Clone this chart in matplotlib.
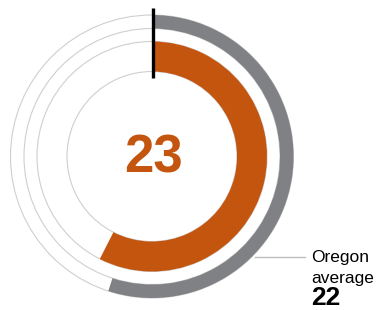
"""
Radial gauge: county value vs Oregon average
"""

import matplotlib.pyplot as plt
import matplotlib.patches as patches

plt.rcParams['font.family'] = ['Liberation Sans', 'DejaVu Sans']

# data
value = 23
state_avg = 22
max_value = 40
avg_label = ['Oregon', 'average']

# colors
orange = '#c4550e'
gray = '#808184'
ring_line = '#cfcfcf'

W, H = 381, 310
fig = plt.figure(figsize=(W / 100, H / 100), dpi=100)
ax = fig.add_axes([0, 0, 1, 1])
ax.set_xlim(0, W)
ax.set_ylim(0, H)
ax.set_aspect('equal')
ax.axis('off')

cx, cy = 152, H - 156.5

# thin guide circles
for r in (141.5, 128, 115, 85):
    ax.add_patch(patches.Circle((cx, cy), r, fill=False,
                                edgecolor=ring_line, linewidth=0.8))


def to_theta(v):
    # clockwise from 12 o'clock
    return 90 - 360 * v / max_value


# outer ring: state average
ax.add_patch(patches.Wedge((cx, cy), 141.5, to_theta(state_avg), 90,
                           width=13.5, facecolor=gray, edgecolor='none'))
# inner ring: county value
ax.add_patch(patches.Wedge((cx, cy), 115, to_theta(value), 90,
                           width=30, facecolor=orange, edgecolor='none'))

# start tick
ax.plot([cx + 0.5, cx + 0.5], [H - 8, H - 78], color='black', linewidth=2.4,
        solid_capstyle='butt')

ax.text(cx + 1, cy - 2, str(value), ha='center', va='center', fontsize=38,
        fontweight='bold', color=orange)

# leader line and label
ax.plot([255, 305], [H - 257, H - 257], color='#bdbdbd', linewidth=1)
ax.text(311, H - 262, avg_label[0], ha='left', va='baseline', fontsize=12.5)
ax.text(311, H - 283, avg_label[1], ha='left', va='baseline', fontsize=12.5)
ax.text(311, H - 305, str(state_avg), ha='left', va='baseline', fontsize=19,
        fontweight='bold')

fig.savefig('out.png', dpi=100)
